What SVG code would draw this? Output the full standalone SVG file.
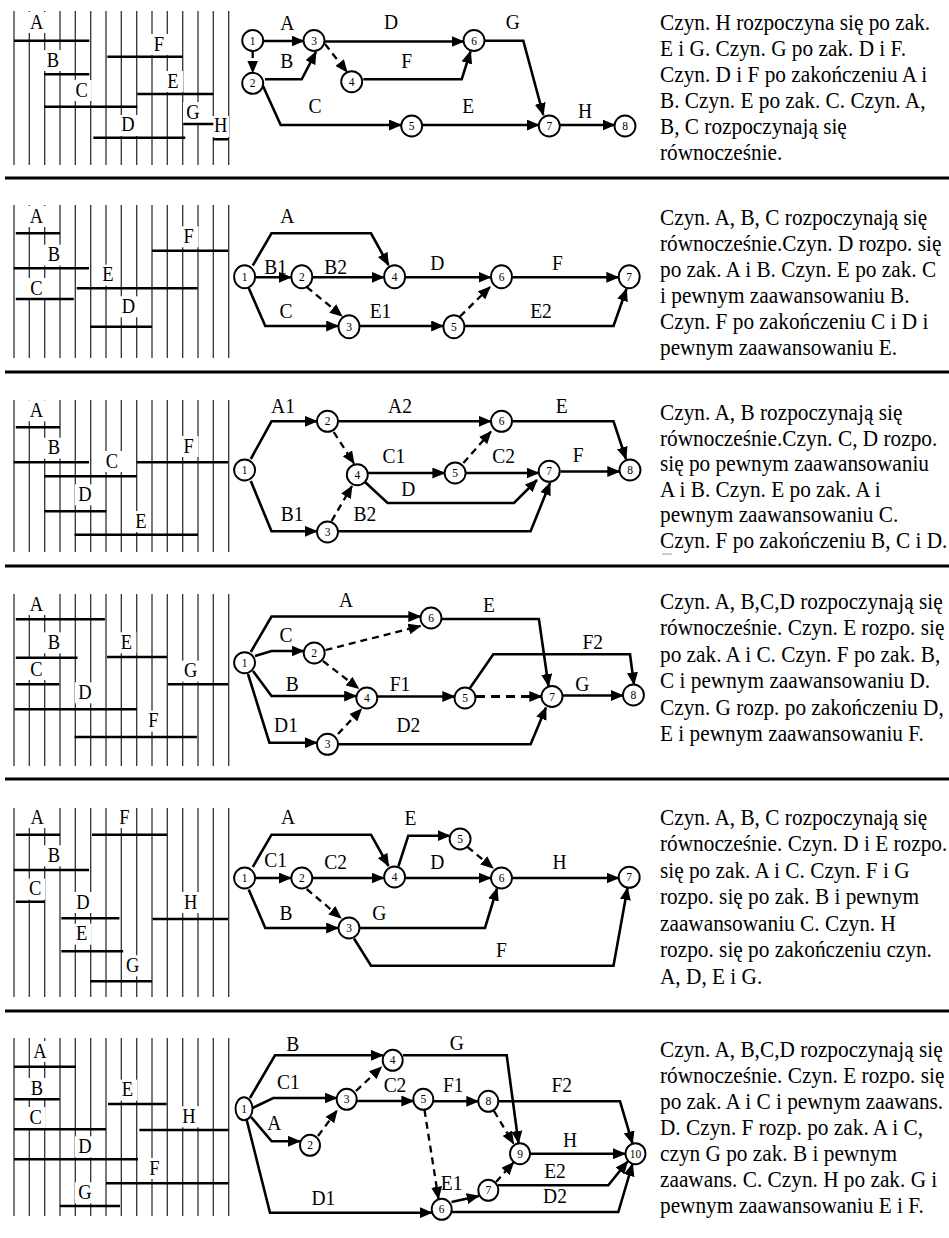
<svg xmlns="http://www.w3.org/2000/svg" xmlns:xlink="http://www.w3.org/1999/xlink" width="949" height="1238" viewBox="0 0 949 1238">
<style>
.sep{stroke:#000;stroke-width:3}
.grid{stroke:#333;stroke-width:1.3;fill:none}
.bar{stroke:#000;stroke-width:2.6;fill:none}
.box rect{fill:#fff}
.gl,.el{font-family:"Liberation Serif","Times New Roman",serif;text-anchor:middle;fill:#000;transform-box:fill-box;transform-origin:50% 100%;transform:scaleY(1.08)}
.gl{font-size:18.5px}
.el{font-size:19.5px}
.node ellipse{fill:#fff;stroke:#000;stroke-width:1.9}
.node text{font-family:"Liberation Serif","Times New Roman",serif;font-size:11.5px;text-anchor:middle;fill:#000}
.e{fill:none;stroke:#000;stroke-width:2.6;marker-end:url(#ah)}
.d{stroke-dasharray:7 5;stroke-width:2.3}
.para{font-family:"Liberation Serif","Times New Roman",serif;font-size:21.3px;fill:#000}
</style>
<defs>
<marker id="ah" viewBox="0 0 13 11" markerWidth="13" markerHeight="11" refX="12" refY="5.5" orient="auto" markerUnits="userSpaceOnUse"><path d="M0,0L13,5.5L0,11z" fill="#000"/></marker>
<path id="gr" d="M14 0V1M29.3 0V1M44.7 0V1M60 0V1M75.3 0V1M90.7 0V1M106 0V1M121.3 0V1M136.7 0V1M152 0V1M167.3 0V1M182.7 0V1M198 0V1M213.3 0V1M228.7 0V1"/>
</defs>
<rect width="949" height="1238" fill="#fff"/>

<!-- section dividers -->
<g id="dividers">
<line class="sep" x1="5" y1="178" x2="949" y2="178"/>
<line class="sep" x1="5" y1="372" x2="949" y2="372"/>
<line class="sep" x1="5" y1="566" x2="949" y2="566"/>
<line class="sep" x1="5" y1="779" x2="949" y2="779"/>
<line class="sep" x1="5" y1="1011" x2="949" y2="1011"/>
</g>

<!-- ===== Section 1 ===== -->
<g id="s1-gantt">
<use href="#gr" class="grid" transform="translate(0,11) scale(1,154)"/>
<g class="box">
<rect x="26.7" y="12" width="20" height="21"/><rect x="43" y="50" width="20" height="21"/><rect x="71.7" y="80" width="20" height="21"/><rect x="118" y="115" width="20" height="21"/><rect x="163" y="71" width="20" height="21"/><rect x="149" y="34" width="20" height="21"/><rect x="183" y="102" width="20" height="21"/><rect x="212" y="116" width="17" height="21"/>
</g>
<text class="gl" x="36.7" y="29">A</text><text class="gl" x="53" y="67">B</text><text class="gl" x="81.7" y="97">C</text><text class="gl" x="128" y="131.7">D</text><text class="gl" x="173" y="88">E</text><text class="gl" x="159" y="51">F</text><text class="gl" x="193" y="119">G</text><text class="gl" x="220.7" y="132.7">H</text>
<path class="bar" d="M14 40.7H89.3M44.3 74.3H89.3M44.3 106.7H137.3M93.3 137.7H185.3M137.3 94H213.3M107.3 56.7H182.7M183.3 124H213.3M213.3 139.3H228.7"/>
</g>
<g id="s1-edges">
<path class="e d" d="M252.7,51L252.7,72.5"/>
<path class="e" d="M263.2,41L303.5,41"/>
<path class="e" d="M265,79.3L301.7,79.3L316,52"/>
<path class="e d" d="M325,44L347,72"/>
<path class="e" d="M324.5,41.5L463.5,41.5"/>
<path class="e" d="M363.3,79.3L461.7,79.3L470.5,51.5"/>
<path class="e" d="M485,40.7L523.3,40.7L543.3,115"/>
<path class="e" d="M263,86L280.7,125L401,125"/>
<path class="e" d="M422.5,125L538.8,125"/>
<path class="e" d="M560,125L614.5,125"/>
<text class="el" x="287.3" y="30">A</text><text class="el" x="286.7" y="68">B</text><text class="el" x="315" y="113">C</text><text class="el" x="391" y="29">D</text><text class="el" x="468.3" y="113">E</text><text class="el" x="406.7" y="68">F</text><text class="el" x="512.7" y="29">G</text><text class="el" x="585" y="118">H</text>
</g>
<g id="s1-n1" class="node"><ellipse cx="252.7" cy="40.5" rx="10.5" ry="10.5"/><text x="252.7" y="44.5">1</text></g>
<g id="s1-n2" class="node"><ellipse cx="252.7" cy="83.3" rx="10.5" ry="10.5"/><text x="252.7" y="87.3">2</text></g>
<g id="s1-n3" class="node"><ellipse cx="314" cy="40.5" rx="10.5" ry="10.5"/><text x="314" y="44.5">3</text></g>
<g id="s1-n4" class="node"><ellipse cx="351.7" cy="81.7" rx="10.5" ry="10.5"/><text x="351.7" y="85.7">4</text></g>
<g id="s1-n5" class="node"><ellipse cx="411.7" cy="126" rx="10.5" ry="10.5"/><text x="411.7" y="130">5</text></g>
<g id="s1-n6" class="node"><ellipse cx="474" cy="40.5" rx="10.5" ry="10.5"/><text x="474" y="44.5">6</text></g>
<g id="s1-n7" class="node"><ellipse cx="549.3" cy="126" rx="10.5" ry="10.5"/><text x="549.3" y="130">7</text></g>
<g id="s1-n8" class="node"><ellipse cx="625" cy="126" rx="10.5" ry="10.5"/><text x="625" y="130">8</text></g>
<text id="s1-text" class="para" transform="matrix(1 0 0 1.08 0 -2.4)"><tspan x="660" y="30">Czyn. H rozpoczyna się po zak.</tspan><tspan x="660" dy="24.1">E i G. Czyn. G po zak. D i F.</tspan><tspan x="660" dy="24.1">Czyn. D i F po zakończeniu A i</tspan><tspan x="660" dy="24.1">B. Czyn. E po zak. C. Czyn. A,</tspan><tspan x="660" dy="24.1">B, C rozpoczynają się</tspan><tspan x="660" dy="24.1">równocześnie.</tspan></text>

<!-- ===== Section 2 ===== -->
<g id="s2-gantt">
<use href="#gr" class="grid" transform="translate(0,205) scale(1,153)"/>
<g class="box">
<rect x="26.5" y="206" width="20" height="21"/><rect x="44" y="244.7" width="20" height="21"/><rect x="26.5" y="278" width="20" height="21"/><rect x="97.8" y="264.7" width="20" height="21"/><rect x="118.5" y="296.3" width="20" height="21"/><rect x="178.6" y="226.3" width="20" height="21"/>
</g>
<text class="gl" x="36.5" y="223">A</text><text class="gl" x="54" y="261.7">B</text><text class="gl" x="36.5" y="295">C</text><text class="gl" x="107.8" y="281.7">E</text><text class="gl" x="128.5" y="313.3">D</text><text class="gl" x="188.6" y="243.3">F</text>
<path class="bar" d="M15.8 233.3H60M13.7 268.3H89M15.8 299H73.8M76.7 288.3H197.7M90 326.7H152M152 250.7H228"/>
</g>
<g id="s2-edges">
<path class="e" d="M252.8,265.5L271.5,233.3L371,233.3L388.5,265"/>
<path class="e" d="M255.5,277.3L290.8,277.3"/>
<path class="e" d="M313,277.3L383.6,277.3"/>
<path class="e" d="M405.5,277.3L490.5,277.3"/>
<path class="e" d="M512.5,277.3L618.3,277.3"/>
<path class="e" d="M248.7,288L265.3,326L338.2,326"/>
<path class="e d" d="M306.7,287L342,316"/>
<path class="e" d="M360,326L443.2,326"/>
<path class="e d" d="M460,316.5L490,287"/>
<path class="e" d="M465,326L613.5,326L626.5,289"/>
<text class="el" x="287.2" y="223.3">A</text><text class="el" x="275.6" y="274">B1</text><text class="el" x="335.7" y="274">B2</text><text class="el" x="437.3" y="270">D</text><text class="el" x="557.5" y="270">F</text><text class="el" x="286" y="318">C</text><text class="el" x="380.5" y="318">E1</text><text class="el" x="541" y="318">E2</text>
</g>
<g id="s2-n1" class="node"><ellipse cx="244.6" cy="276.7" rx="10.5" ry="11.5"/><text x="244.6" y="280.7">1</text></g>
<g id="s2-n2" class="node"><ellipse cx="301.8" cy="276.7" rx="10.5" ry="11.5"/><text x="301.8" y="280.7">2</text></g>
<g id="s2-n3" class="node"><ellipse cx="349" cy="326.7" rx="10.5" ry="11.5"/><text x="349" y="330.7">3</text></g>
<g id="s2-n4" class="node"><ellipse cx="394.6" cy="276.7" rx="10.5" ry="11.5"/><text x="394.6" y="280.7">4</text></g>
<g id="s2-n5" class="node"><ellipse cx="453.9" cy="326.7" rx="10.5" ry="11.5"/><text x="453.9" y="330.7">5</text></g>
<g id="s2-n6" class="node"><ellipse cx="501.5" cy="276.7" rx="10.5" ry="11.5"/><text x="501.5" y="280.7">6</text></g>
<g id="s2-n7" class="node"><ellipse cx="629.2" cy="276.7" rx="10.5" ry="11.5"/><text x="629.2" y="280.7">7</text></g>
<text id="s2-text" class="para" transform="matrix(1 0 0 1.08 0 -18)"><tspan x="660" y="225">Czyn. A, B, C rozpoczynają się</tspan><tspan x="660" dy="24.1">równocześnie.Czyn. D rozpo. się</tspan><tspan x="660" dy="24.1">po zak. A i B. Czyn. E po zak. C</tspan><tspan x="660" dy="24.1">i pewnym zaawansowaniu B.</tspan><tspan x="660" dy="24.1">Czyn. F po zakończeniu C i D i</tspan><tspan x="660" dy="24.1">pewnym zaawansowaniu E.</tspan></text>

<!-- ===== Section 3 ===== -->
<g id="s3-gantt">
<use href="#gr" class="grid" transform="translate(0,400) scale(1,152)"/>
<g class="box">
<rect x="26.5" y="400.3" width="20" height="21"/><rect x="44" y="437.7" width="20" height="21"/><rect x="102" y="451" width="20" height="21"/><rect x="178.6" y="436" width="20" height="21"/><rect x="75" y="484.3" width="20" height="21"/><rect x="131" y="511" width="20" height="21"/>
</g>
<text class="gl" x="36.5" y="417.3">A</text><text class="gl" x="54" y="454.7">B</text><text class="gl" x="112" y="468">C</text><text class="gl" x="188.6" y="453">F</text><text class="gl" x="85" y="501.3">D</text><text class="gl" x="141" y="528">E</text>
<path class="bar" d="M15.8 427.3H60M13.7 462.3H89M44.4 476.3H136.8M136.8 462.3H228M44.4 511.3H106.5M74.6 534.7H198"/>
<line x1="662" y1="554" x2="672" y2="554" stroke="#ccc" stroke-width="2"/>
</g>
<g id="s3-edges">
<path class="e" d="M250.8,459L271.5,421.3L316.8,421.3"/>
<path class="e" d="M338.5,421.3L490.8,421.3"/>
<path class="e" d="M512.5,421.3L613.5,421.3L626,459"/>
<path class="e d" d="M333.7,432L354,463.5"/>
<path class="e" d="M368,473L444.4,473"/>
<path class="e d" d="M463.4,463L491,431.5"/>
<path class="e" d="M466,473L538.5,473"/>
<path class="e" d="M560.5,471.5L619.3,471.5"/>
<path class="e" d="M365,482L387.6,503L514,503L537,480"/>
<path class="e" d="M250.8,481L271.5,531.3L316.8,531.3"/>
<path class="e d" d="M331.6,521L352,486"/>
<path class="e" d="M338.5,531.3L530.6,531.3L550,483"/>
<text class="el" x="283" y="413">A1</text><text class="el" x="400" y="413">A2</text><text class="el" x="561.6" y="413">E</text><text class="el" x="393.8" y="463">C1</text><text class="el" x="503.6" y="463">C2</text><text class="el" x="578.2" y="462">F</text><text class="el" x="408.3" y="496.3">D</text><text class="el" x="292.2" y="521.3">B1</text><text class="el" x="364.8" y="521.3">B2</text>
</g>
<g id="s3-n1" class="node"><ellipse cx="244.6" cy="470" rx="10.5" ry="10.5"/><text x="244.6" y="474">1</text></g>
<g id="s3-n2" class="node"><ellipse cx="327.5" cy="421.3" rx="10.5" ry="10.5"/><text x="327.5" y="425.3">2</text></g>
<g id="s3-n3" class="node"><ellipse cx="327.5" cy="532" rx="10.5" ry="10.5"/><text x="327.5" y="536">3</text></g>
<g id="s3-n4" class="node"><ellipse cx="357.3" cy="474.7" rx="10.5" ry="10.5"/><text x="357.3" y="478.7">4</text></g>
<g id="s3-n5" class="node"><ellipse cx="455.1" cy="473" rx="10.5" ry="10.5"/><text x="455.1" y="477">5</text></g>
<g id="s3-n6" class="node"><ellipse cx="501.5" cy="421.3" rx="10.5" ry="10.5"/><text x="501.5" y="425.3">6</text></g>
<g id="s3-n7" class="node"><ellipse cx="549.2" cy="471.3" rx="10.5" ry="10.5"/><text x="549.2" y="475.3">7</text></g>
<g id="s3-n8" class="node"><ellipse cx="630" cy="470" rx="10.5" ry="10.5"/><text x="630" y="474">8</text></g>
<text id="s3-text" class="para" transform="matrix(1 0 0 1.08 0 -33.6)"><tspan x="660" y="420">Czyn. A, B rozpoczynają się</tspan><tspan x="660" dy="23.7">równocześnie.Czyn. C, D rozpo.</tspan><tspan x="660" dy="23.7">się po pewnym zaawansowaniu</tspan><tspan x="660" dy="23.7">A i B. Czyn. E po zak. A i</tspan><tspan x="660" dy="23.7">pewnym zaawansowaniu C.</tspan><tspan x="660" dy="23.7">Czyn. F po zakończeniu B, C i D.</tspan></text>

<!-- ===== Section 4 ===== -->
<g id="s4-gantt">
<use href="#gr" class="grid" transform="translate(0,594) scale(1,172)"/>
<g class="box">
<rect x="26.5" y="594" width="20" height="21"/><rect x="44" y="632.3" width="20" height="21"/><rect x="116.4" y="632.3" width="20" height="21"/><rect x="26.5" y="659" width="20" height="21"/><rect x="180.7" y="660.7" width="20" height="21"/><rect x="75" y="682.3" width="20" height="21"/><rect x="143.4" y="710.7" width="20" height="21"/>
</g>
<text class="gl" x="36.5" y="611">A</text><text class="gl" x="54" y="649.3">B</text><text class="gl" x="126.4" y="649.3">E</text><text class="gl" x="36.5" y="676">C</text><text class="gl" x="190.7" y="677.7">G</text><text class="gl" x="85" y="699.3">D</text><text class="gl" x="153.4" y="727.7">F</text>
<path class="bar" d="M15.8 619.3H104.9M15.8 657.7H77.5M107 657H167M15.8 684.3H59.3M167.9 684.3H228M14.5 709.3H136.8M74.6 737H196.9"/>
</g>
<g id="s4-edges">
<path class="e" d="M250.8,652L271.5,616.5L420.3,616.5"/>
<path class="e" d="M255,656L271.5,651L303.5,651"/>
<path class="e d" d="M325.5,650L420.5,626"/>
<path class="e d" d="M323,661L358.5,688.5"/>
<path class="e" d="M253,671L271.5,696L356.2,696"/>
<path class="e" d="M377.5,696.5L454.3,696.5"/>
<path class="e d" d="M476,696.5L541.3,696.5" style="stroke-width:2.8;stroke-dasharray:9 6"/>
<path class="e" d="M563,695.5L622.8,695.5"/>
<path class="e" d="M442,619L538.9,619L548.5,686"/>
<path class="e" d="M470,688L493.3,654.3L630,654.3L634,684.5"/>
<path class="e" d="M248,674L269.4,742.7L316.8,742.7"/>
<path class="e d" d="M338,734L361.5,709"/>
<path class="e" d="M338.5,744.3L530.6,744.3L546,707.5"/>
<text class="el" x="346" y="607.7">A</text><text class="el" x="489" y="612.7">E</text><text class="el" x="286" y="642.7">C</text><text class="el" x="592.7" y="649.3">F2</text><text class="el" x="292.2" y="691">B</text><text class="el" x="400" y="691">F1</text><text class="el" x="582.4" y="691">G</text><text class="el" x="286" y="732.7">D1</text><text class="el" x="408.3" y="732.7">D2</text>
</g>
<g id="s4-n1" class="node"><ellipse cx="244.6" cy="662.7" rx="10.5" ry="10.5"/><text x="244.6" y="666.7">1</text></g>
<g id="s4-n2" class="node"><ellipse cx="314.2" cy="653" rx="10.5" ry="10.5"/><text x="314.2" y="657">2</text></g>
<g id="s4-n3" class="node"><ellipse cx="327.5" cy="744.3" rx="10.5" ry="10.5"/><text x="327.5" y="748.3">3</text></g>
<g id="s4-n4" class="node"><ellipse cx="366.8" cy="698" rx="10.5" ry="10.5"/><text x="366.8" y="702">4</text></g>
<g id="s4-n5" class="node"><ellipse cx="465" cy="698" rx="10.5" ry="10.5"/><text x="465" y="702">5</text></g>
<g id="s4-n6" class="node"><ellipse cx="431" cy="618" rx="10.5" ry="10.5"/><text x="431" y="622">6</text></g>
<g id="s4-n7" class="node"><ellipse cx="552" cy="696.5" rx="10.5" ry="10.5"/><text x="552" y="700.5">7</text></g>
<g id="s4-n8" class="node"><ellipse cx="633.4" cy="695" rx="10.5" ry="10.5"/><text x="633.4" y="699">8</text></g>
<text id="s4-text" class="para" transform="matrix(1 0 0 1.08 0 -48.72)"><tspan x="660" y="609">Czyn. A, B,C,D rozpoczynają się</tspan><tspan x="660" dy="24.5">równocześnie. Czyn. E rozpo. się</tspan><tspan x="660" dy="24.5">po zak. A i C. Czyn. F po zak. B,</tspan><tspan x="660" dy="24.5">C i pewnym zaawansowaniu D.</tspan><tspan x="660" dy="24.5">Czyn. G rozp. po zakończeniu D,</tspan><tspan x="660" dy="24.5">E i pewnym zaawansowaniu F.</tspan></text>

<!-- ===== Section 5 ===== -->
<g id="s5-gantt">
<use href="#gr" class="grid" transform="translate(0,808) scale(1,189)"/>
<g class="box">
<rect x="27.3" y="807" width="20" height="21"/><rect x="114.4" y="807" width="20" height="21"/><rect x="44" y="845.3" width="20" height="21"/><rect x="25.2" y="878.7" width="20" height="21"/><rect x="72.9" y="892" width="20" height="21"/><rect x="180.7" y="892" width="20" height="21"/><rect x="71.7" y="923.7" width="20" height="21"/><rect x="122.6" y="955.3" width="20" height="21"/>
</g>
<text class="gl" x="37.3" y="824">A</text><text class="gl" x="124.4" y="824">F</text><text class="gl" x="54" y="862.3">B</text><text class="gl" x="35.2" y="895.7">C</text><text class="gl" x="82.9" y="909">D</text><text class="gl" x="190.7" y="909">H</text><text class="gl" x="81.7" y="940.7">E</text><text class="gl" x="132.6" y="972.3">G</text>
<path class="bar" d="M15.8 834.7H60M92 834.7H167M13.7 870H89M15.8 901.7H44.8M61.3 918.3H119.4M152.5 919H228M61.3 951.3H123.1M90.4 981.3H152.1"/>
</g>
<g id="s5-edges">
<path class="e" d="M252.8,867L271.5,834.7L371,834.7L388.5,866"/>
<path class="e" d="M255.5,878L290.8,878"/>
<path class="e" d="M313,878L383.6,878"/>
<path class="e" d="M398.5,866L408.3,835.7L449.6,835.7"/>
<path class="e d" d="M467.5,847L493,868"/>
<path class="e" d="M405.5,878L490.5,878"/>
<path class="e" d="M512.5,878L618.5,878"/>
<path class="e" d="M248.7,889.5L265.3,928L338.2,928"/>
<path class="e d" d="M306.7,889L341,918"/>
<path class="e" d="M360,928L485,928L497,888.5"/>
<path class="e" d="M354,938.5L371,965.7L613.5,965.7L627.5,888"/>
<text class="el" x="288" y="824">A</text><text class="el" x="410.4" y="825.7">E</text><text class="el" x="275.6" y="867.3">C1</text><text class="el" x="335.7" y="869">C2</text><text class="el" x="437.3" y="869">D</text><text class="el" x="559.6" y="869">H</text><text class="el" x="286" y="920.7">B</text><text class="el" x="379.3" y="920.7">G</text><text class="el" x="501.5" y="957.3">F</text>
</g>
<g id="s5-n1" class="node"><ellipse cx="244.6" cy="878" rx="10.5" ry="10.5"/><text x="244.6" y="882">1</text></g>
<g id="s5-n2" class="node"><ellipse cx="301.8" cy="878" rx="10.5" ry="10.5"/><text x="301.8" y="882">2</text></g>
<g id="s5-n3" class="node"><ellipse cx="349" cy="928" rx="10.5" ry="10.5"/><text x="349" y="932">3</text></g>
<g id="s5-n4" class="node"><ellipse cx="394.6" cy="877" rx="10.5" ry="10.5"/><text x="394.6" y="881">4</text></g>
<g id="s5-n5" class="node"><ellipse cx="460.1" cy="839" rx="10.5" ry="10.5"/><text x="460.1" y="843">5</text></g>
<g id="s5-n6" class="node"><ellipse cx="501.5" cy="878" rx="10.5" ry="10.5"/><text x="501.5" y="882">6</text></g>
<g id="s5-n7" class="node"><ellipse cx="629.2" cy="877.3" rx="10.5" ry="10.5"/><text x="629.2" y="881.3">7</text></g>
<text id="s5-text" class="para" transform="matrix(1 0 0 1.08 0 -66)"><tspan x="660" y="825">Czyn. A, B, C rozpoczynają się</tspan><tspan x="660" dy="24.5">równocześnie. Czyn. D i E rozpo.</tspan><tspan x="660" dy="24.5">się po zak. A i C. Czyn. F i G</tspan><tspan x="660" dy="24.5">rozpo. się po zak. B i pewnym</tspan><tspan x="660" dy="24.5">zaawansowaniu C. Czyn. H</tspan><tspan x="660" dy="24.5">rozpo. się po zakończeniu czyn.</tspan><tspan x="660" dy="24.5">A, D, E i G.</tspan></text>

<!-- ===== Section 6 ===== -->
<g id="s6-gantt">
<use href="#gr" class="grid" transform="translate(0,1038) scale(1,178)"/>
<g class="box">
<rect x="30" y="1041" width="20" height="21"/><rect x="27" y="1078" width="20" height="21"/><rect x="117.4" y="1079.7" width="20" height="21"/><rect x="25.7" y="1107" width="20" height="21"/><rect x="179" y="1106.3" width="20" height="21"/><rect x="75" y="1136.3" width="20" height="21"/><rect x="144.5" y="1158" width="20" height="21"/><rect x="75" y="1182.3" width="20" height="21"/>
</g>
<text class="gl" x="40" y="1058">A</text><text class="gl" x="37" y="1095">B</text><text class="gl" x="127.4" y="1096.7">E</text><text class="gl" x="35.7" y="1124">C</text><text class="gl" x="189" y="1123.3">H</text><text class="gl" x="85" y="1153.3">D</text><text class="gl" x="154.5" y="1175">F</text><text class="gl" x="85" y="1199.3">G</text>
<path class="bar" d="M14 1066.7H76M14 1099.3H59.8M108 1104H166.6M14 1129.3H106M139.4 1130H228.7M14 1159.3H138M106 1183.3H228.7M60 1206H120"/>
</g>
<g id="s6-edges">
<path class="e" d="M250,1098L275,1055.3L382.8,1055.3"/>
<path class="e" d="M252.5,1108L273.3,1098L336.7,1098"/>
<path class="e" d="M251,1117L271.7,1141.3L300,1141.3"/>
<path class="e d" d="M318,1136L337,1110.5"/>
<path class="e d" d="M356,1091L381.5,1067"/>
<path class="e" d="M357,1101L413.3,1101"/>
<path class="e" d="M433.5,1101.3L478.3,1101.3"/>
<path class="e" d="M498.5,1101.3L620,1101.3L632.5,1143.5"/>
<path class="e" d="M403,1055.3L506.7,1055.3L518.5,1143"/>
<path class="e d" d="M494,1111L513.5,1143.5"/>
<path class="e d" d="M424.5,1110L438.5,1198.8"/>
<path class="e" d="M530,1153.7L625,1153.7"/>
<path class="e d" d="M496,1182L513.5,1162.5"/>
<path class="e" d="M451.5,1202L478.8,1196"/>
<path class="e" d="M498,1185.3L608.3,1185.3L627.5,1161.5"/>
<path class="e" d="M451.5,1212L618.3,1212L632.5,1164"/>
<path class="e" d="M246.7,1120L270,1212.7L431.7,1212.7"/>
<text class="el" x="292.7" y="1051.3">B</text><text class="el" x="456.7" y="1050.3">G</text><text class="el" x="288.3" y="1089.3">C1</text><text class="el" x="395" y="1092">C2</text><text class="el" x="453.3" y="1092">F1</text><text class="el" x="561.7" y="1092">F2</text><text class="el" x="274.3" y="1130.3">A</text><text class="el" x="570" y="1147">H</text><text class="el" x="555" y="1178.7">E2</text><text class="el" x="451.7" y="1190.3">E1</text><text class="el" x="555" y="1203.7">D2</text><text class="el" x="323.3" y="1205.3">D1</text>
</g>
<g id="s6-n1" class="node"><ellipse cx="244" cy="1108.7" rx="8.5" ry="11.5"/><text x="244" y="1112.7">1</text></g>
<g id="s6-n2" class="node"><ellipse cx="310" cy="1145.3" rx="10" ry="10.5"/><text x="310" y="1149.3">2</text></g>
<g id="s6-n3" class="node"><ellipse cx="346.7" cy="1099.3" rx="10" ry="10.5"/><text x="346.7" y="1103.3">3</text></g>
<g id="s6-n4" class="node"><ellipse cx="392.7" cy="1060.3" rx="10" ry="10.5"/><text x="392.7" y="1064.3">4</text></g>
<g id="s6-n5" class="node"><ellipse cx="423.3" cy="1099.3" rx="10" ry="10.5"/><text x="423.3" y="1103.3">5</text></g>
<g id="s6-n6" class="node"><ellipse cx="441.7" cy="1209.3" rx="10" ry="10.5"/><text x="441.7" y="1213.3">6</text></g>
<g id="s6-n7" class="node"><ellipse cx="488.3" cy="1190.3" rx="10" ry="10.5"/><text x="488.3" y="1194.3">7</text></g>
<g id="s6-n8" class="node"><ellipse cx="488.3" cy="1101.3" rx="10" ry="10.5"/><text x="488.3" y="1105.3">8</text></g>
<g id="s6-n9" class="node"><ellipse cx="520" cy="1153.7" rx="10" ry="10.5"/><text x="520" y="1157.7">9</text></g>
<g id="s6-n10" class="node"><ellipse cx="635.5" cy="1153.7" rx="10" ry="10.5"/><text x="635.5" y="1157.7">10</text></g>
<text id="s6-text" class="para" transform="matrix(1 0 0 1.08 0 -84.56)"><tspan x="660" y="1057">Czyn. A, B,C,D rozpoczynają się</tspan><tspan x="660" dy="24.1">równocześnie. Czyn. E rozpo. się</tspan><tspan x="660" dy="24.1">po zak. A i C i pewnym zaawans.</tspan><tspan x="660" dy="24.1">D. Czyn. F rozp. po zak. A i C,</tspan><tspan x="660" dy="24.1">czyn G po zak. B i pewnym</tspan><tspan x="660" dy="24.1">zaawans. C. Czyn. H po zak. G i</tspan><tspan x="660" dy="24.1">pewnym zaawansowaniu E i F.</tspan></text>
</svg>
